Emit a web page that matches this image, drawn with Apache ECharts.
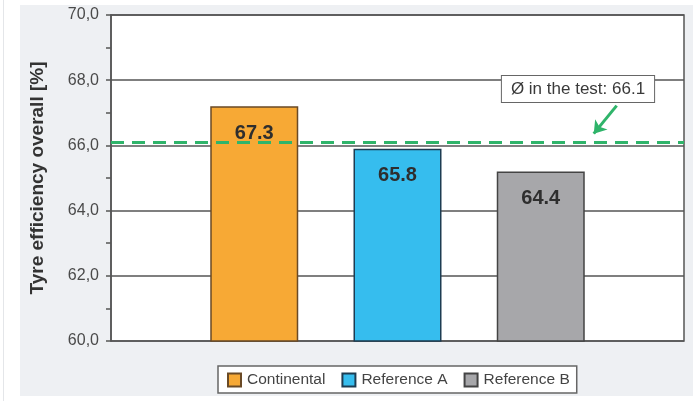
<!DOCTYPE html>
<html>
<head>
<meta charset="utf-8">
<script src="https://cdn.jsdelivr.net/npm/echarts@6/dist/echarts.min.js"></script>
<style>
html,body{margin:0;padding:0;background:#fff;width:693px;height:401px;overflow:hidden;}
#strip{position:absolute;left:3px;top:0;width:1px;height:401px;background:#e4e6e9;}
#chart{position:absolute;left:20px;top:5px;width:673px;height:391px;background:#eef0f3;}
</style>
</head>
<body>
<div id="strip"></div>
<div id="chart"></div>
<script>
var categories = ['Continental', 'Reference A', 'Reference B'];
var positions = [1, 2, 3];
var barValues = [67.2, 65.9, 65.2];
var barLabels = ['67.3', '65.8', '64.4'];
var barColors = ['#f7a935', '#36bdee', '#a7a7aa'];
var barBorders = ['#6a4a26', '#1d3c52', '#444444'];
var avgValue = 66.1;
var avgLabel = 'Ø in the test: 66.1';
var yTicks = [60, 62, 64, 66, 68, 70];

var chart = echarts.init(document.getElementById('chart'));
var series = categories.map(function (name, i) {
  return {
    name: name,
    type: 'bar',
    barWidth: 88,
    barGap: '-100%',
    data: [[positions[i], barValues[i]]],
    itemStyle: { color: barColors[i], borderColor: barBorders[i], borderWidth: 1.5 },
    label: {
      show: true, position: 'insideTop', distance: 17,
      formatter: function () { return barLabels[i]; },
      fontFamily: 'Liberation Sans', fontSize: 20, fontWeight: 'bold', color: '#2e2e2e'
    },
    z: 2
  };
});
series[0].markLine = {
  silent: true, symbol: 'none', z: 5,
  lineStyle: { color: '#2fb46a', type: [13, 8], width: 3 },
  label: { show: false },
  data: [{ yAxis: avgValue }]
};
series[1].markLine = {
  silent: true, symbol: ['none', 'arrow'], symbolSize: 12, z: 5,
  lineStyle: { color: '#2fb46a', type: 'solid', width: 3 },
  label: { show: false },
  data: [[{ coord: [3.53, 67.22] }, { coord: [3.37, 66.36] }]]
};
series[2].markPoint = {
  silent: true, symbol: 'rect', symbolSize: [1, 1],
  itemStyle: { color: 'rgba(0,0,0,0)' },
  label: {
    show: true, position: 'inside',
    formatter: avgLabel,
    fontFamily: 'Liberation Sans', fontSize: 17, color: '#3a3a3a',
    backgroundColor: '#fff', borderColor: '#666', borderWidth: 1,
    padding: [5, 9, 4, 9]
  },
  data: [{ coord: [3.26, 67.73] }]
};

chart.setOption({
  animation: false,
  grid: {
    left: 90, top: 10, right: 9, bottom: 55,
    show: true, backgroundColor: '#fff', borderColor: '#555', borderWidth: 1.5
  },
  legend: {
    data: categories,
    left: 198, top: 361,
    backgroundColor: '#fff', borderColor: '#666', borderWidth: 1.5,
    padding: [6, 7, 5, 9],
    itemWidth: 13, itemHeight: 13, itemGap: 16,
    icon: 'rect',
    textStyle: { fontFamily: 'Liberation Sans', fontSize: 15.5, color: '#444', padding: [0, 0, 0, 1] }
  },
  xAxis: {
    type: 'value', min: 0, max: 4,
    show: false
  },
  yAxis: {
    type: 'value', min: yTicks[0], max: yTicks[yTicks.length - 1], interval: 2,
    name: 'Tyre efficiency overall [%]',
    nameLocation: 'middle', nameGap: 64,
    nameTextStyle: { fontFamily: 'Liberation Sans', fontSize: 19, fontWeight: 'bold', color: '#333' },
    axisLine: { show: true, lineStyle: { color: '#555', width: 1.5 } },
    axisTick: { show: true, length: 5, lineStyle: { color: '#555', width: 1.5 } },
    minorTick: { show: true, splitNumber: 2, length: 5, lineStyle: { color: '#555', width: 1.5 } },
    splitLine: { show: true, lineStyle: { color: '#555', width: 1.5 } },
    axisLabel: {
      margin: 12,
      fontFamily: 'Liberation Sans', fontSize: 16, color: '#4a4a4a',
      formatter: function (v) { return v.toFixed(1).replace('.', ','); }
    }
  },
  series: series
});
</script>
</body>
</html>
